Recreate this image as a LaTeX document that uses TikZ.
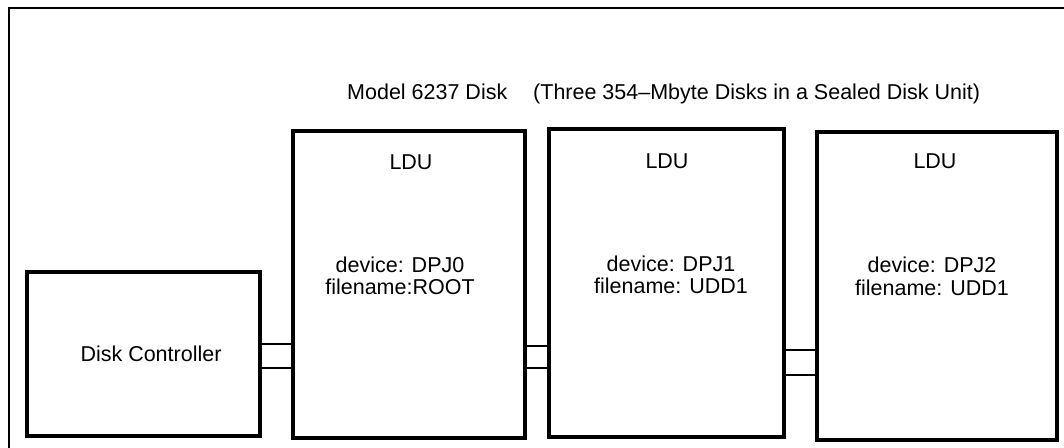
\documentclass[tikz,border=0pt]{standalone}
\usepackage{fontspec}
\setmainfont{Liberation Sans}
\begin{document}
\begin{tikzpicture}[x=1pt,y=-1pt,
  box/.style={draw=black,line width=4.5pt,inner sep=0pt,rectangle},
  link/.style={draw=black,line width=2.4pt},
  frame/.style={draw=black,line width=1.8pt},
  lbl/.style={inner sep=0pt,anchor=base,font=\fontsize{21.5}{25}\selectfont}]
\useasboundingbox (0,0) rectangle (1064,447);
\clip (0,0) rectangle (1064,447);
\fill[white] (0,0) rectangle (1064,447);
% outer frame (continues past the right and bottom edges)
\draw[frame] (9,8) rectangle (1090,470);
% boxes
\node[box,minimum width=233pt,minimum height=164pt] (dc) at (143.5,354) {};
\node[box,minimum width=232pt,minimum height=307pt] (l1) at (409,284.5) {};
\node[box,minimum width=235pt,minimum height=308pt] (l2) at (666.5,283) {};
\node[box,minimum width=240pt,minimum height=308pt] (l3) at (937,286) {};
% titles
\node[lbl,anchor=base west] (t1) at (347,99) {Model 6237 Disk};
\node[lbl,anchor=base west] (t2) at (533,99) {(Three 354–Mbyte Disks in a Sealed Disk Unit)};
% labels
\node[lbl] (dct) at (151,361.5) {Disk Controller};
\node[lbl] (u1) at (411,169.5) {LDU};
\node[lbl] (u2) at (667,168.5) {LDU};
\node[lbl] (u3) at (935,168) {LDU};
\node[lbl] (d1) at (400,272.5) {device: DPJ0};
\node[lbl] (f1) at (400,294) {filename:ROOT};
\node[lbl] (d2) at (671,271.5) {device: DPJ1};
\node[lbl] (f2) at (671,293.5) {filename: UDD1};
\node[lbl] (d3) at (932,272) {device: DPJ2};
\node[lbl] (f3) at (932,295) {filename: UDD1};
% connectors
\draw[link] (dc.east |- 0,344) -- (l1.west |- 0,344);
\draw[link] (dc.east |- 0,368) -- (l1.west |- 0,368);
\draw[link] (l1.east |- 0,346) -- (l2.west |- 0,346);
\draw[link] (l1.east |- 0,368) -- (l2.west |- 0,368);
\draw[link] (l2.east |- 0,350) -- (l3.west |- 0,350);
\draw[link] (l2.east |- 0,375) -- (l3.west |- 0,375);
\end{tikzpicture}
\end{document}
